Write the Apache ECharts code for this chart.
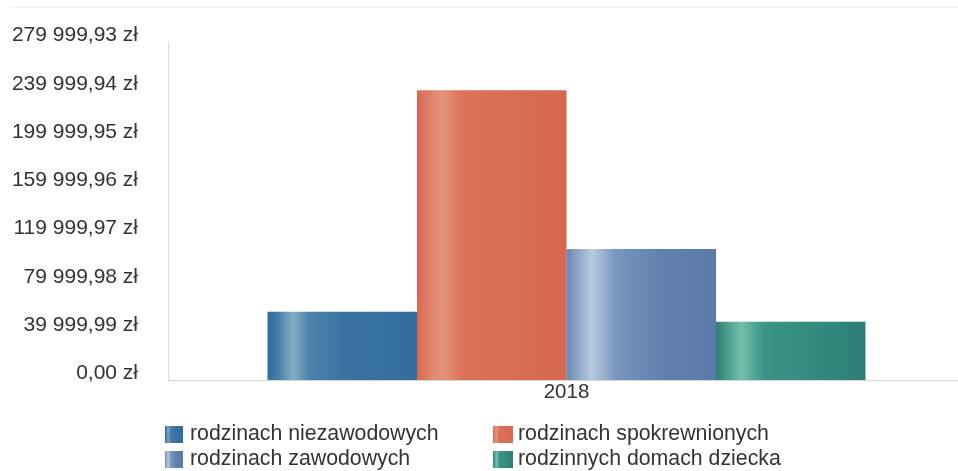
<!DOCTYPE html>
<html>
<head>
<meta charset="utf-8">
<script src="https://cdn.jsdelivr.net/npm/echarts@6/dist/echarts.min.js"></script>
<style>
html,body{margin:0;padding:0;background:#fff;}
#chart{width:958px;height:471px;}
</style>
</head>
<body>
<div id="chart"></div>
<script>
var categories = ['2018'];
var seriesNames = ['rodzinach niezawodowych', 'rodzinach spokrewnionych', 'rodzinach zawodowych', 'rodzinnych domach dziecka'];
var valuesNiezawodowych = [56500];
var valuesSpokrewnionych = [240000];
var valuesZawodowych = [108500];
var valuesDomyDziecka = [48300];
var yTickLabels = ['0,00 zł', '39 999,99 zł', '79 999,98 zł', '119 999,97 zł', '159 999,96 zł', '199 999,95 zł', '239 999,94 zł', '279 999,93 zł'];
var yMax = 279999.93;
var yStep = 39999.99;

function grad(stops) {
  return new echarts.graphic.LinearGradient(0, 0, 1, 0, stops.map(function (s) { return { offset: s[0], color: s[1] }; }));
}
var colors = [
  grad([[0, '#2e6a9b'], [0.08, '#4a81ab'], [0.17, '#86adc3'], [0.28, '#4c83ad'], [0.5, '#3b74a3'], [1, '#336d9d']]),
  grad([[0, '#d7684e'], [0.08, '#de8068'], [0.17, '#e4957f'], [0.3, '#db7258'], [1, '#d6694f']]),
  grad([[0, '#6686b2'], [0.08, '#8faac8'], [0.17, '#b6cadb'], [0.33, '#7897bf'], [0.6, '#6283b0'], [1, '#5a7baa']]),
  grad([[0, '#2a7e77'], [0.08, '#4c9f8f'], [0.17, '#76bfaa'], [0.32, '#3b9487'], [1, '#2c7f77']])
];
var valueArrays = [valuesNiezawodowych, valuesSpokrewnionych, valuesZawodowych, valuesDomyDziecka];

var chart = echarts.init(document.getElementById('chart'), null, { renderer: 'canvas' });
var font = '"Liberation Sans", Arial, sans-serif';
var option = {
  animation: false,
  backgroundColor: '#ffffff',
  graphic: [{
    type: 'line', shape: { x1: 10, y1: 7, x2: 958, y2: 7 },
    style: { stroke: '#e6e6e6', lineWidth: 1 }, silent: true
  }, {
    type: 'line', shape: { x1: 168, y1: 380.5, x2: 175, y2: 380.5 },
    style: { stroke: '#cfcfcf', lineWidth: 1 }, silent: true
  }],
  legend: [{
    data: [seriesNames[0], seriesNames[2]],
    orient: 'vertical', left: 165, top: 424,
    icon: 'rect',
    itemWidth: 18, itemHeight: 17, itemGap: 4, padding: 0,
    textStyle: { fontFamily: font, fontSize: 21.3, color: '#333', padding: [0, 0, 0, 2] }
  }, {
    data: [seriesNames[1], seriesNames[3]],
    orient: 'vertical', left: 493, top: 424,
    icon: 'rect',
    itemWidth: 20, itemHeight: 17, itemGap: 4, padding: 0,
    textStyle: { fontFamily: font, fontSize: 21.3, color: '#333' }
  }],
  grid: { left: 175, top: 42, right: 0, height: 338, containLabel: false },
  xAxis: {
    type: 'category', data: categories,
    axisLine: { show: true, lineStyle: { color: '#cfcfcf', type: 'dotted', width: 1 } },
    axisTick: { show: false },
    axisLabel: { fontFamily: font, fontSize: 20.5, color: '#333', margin: 2 }
  },
  yAxis: {
    type: 'value', min: 0, max: yMax, interval: yStep, offset: 7,
    axisLine: { show: true, lineStyle: { color: '#d4d4d4', type: 'dotted', width: 1 } },
    axisTick: { show: false },
    splitLine: { show: false },
    axisLabel: {
      fontFamily: font, fontSize: 21, color: '#333', margin: 30,
      verticalAlign: 'bottom', lineHeight: 13,
      formatter: function (v, i) { return yTickLabels[Math.round(v / yStep)]; }
    }
  },
  series: seriesNames.map(function (n, i) {
    return {
      name: n, type: 'bar', data: valueArrays[i],
      barWidth: 149.5, barGap: '0%',
      itemStyle: { color: colors[i] }
    };
  })
};
chart.setOption(option);
</script>
</body>
</html>
